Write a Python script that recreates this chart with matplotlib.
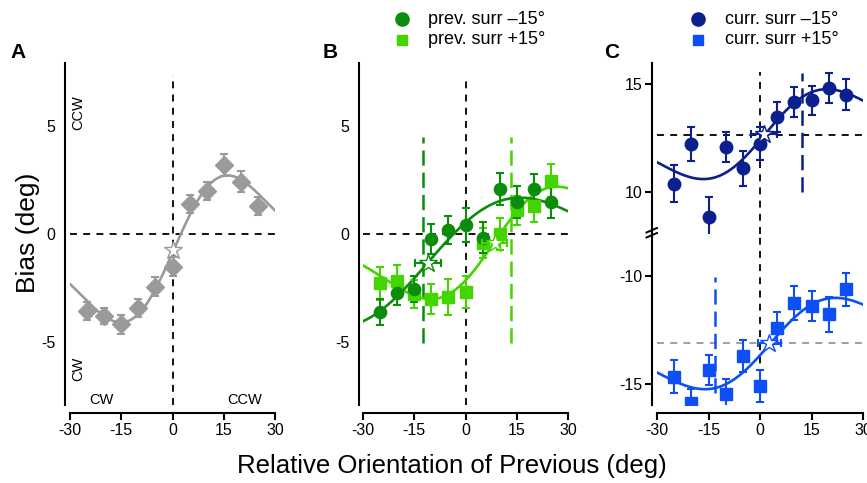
import numpy as np
import matplotlib
matplotlib.use("Agg")
import matplotlib.pyplot as plt
from matplotlib.lines import Line2D

plt.rcParams['font.family'] = ['Liberation Sans', 'DejaVu Sans']
plt.rcParams['lines.scale_dashes'] = False

# ---------------- data ----------------
rel_orient = [-25, -20, -15, -10, -5, 0, 5, 10, 15, 20, 25]
x_ticks = [-30, -15, 0, 15, 30]

# Panel A
A_bias = [-3.57, -3.80, -4.19, -3.45, -2.44, -1.52, 1.37, 1.99, 3.18, 2.41, 1.29]
A_err = [0.43, 0.39, 0.43, 0.42, 0.45, 0.45, 0.42, 0.42, 0.50, 0.50, 0.42]
A_fit = dict(x0=0.5, y0=-0.70, xp=15.6, amp=3.40)
A_star = (0.0, -0.75)

# Panel B
B_minus = [-3.60, -2.72, -2.57, -0.23, 0.17, 0.42, -0.18, 2.05, 1.46, 2.08, 1.46]
B_minus_err = [0.60, 0.58, 0.60, 0.70, 0.65, 0.78, 0.72, 0.74, 0.74, 0.70, 0.75]
B_plus = [-2.29, -2.18, -2.77, -3.00, -2.92, -2.68, -0.42, -0.03, 1.09, 1.28, 2.46]
B_plus_err = [0.75, 0.74, 0.65, 0.70, 0.85, 0.75, 0.70, 0.74, 0.68, 0.74, 0.77]
B_minus_fit = dict(x0=-11.0, y0=-1.33, xp=27.0, amp=3.0)
B_plus_fit = dict(x0=8.3, y0=-0.42, xp=18.5, amp=2.6)
B_minus_star = (-11.0, -1.33, 3.7)
B_plus_star = (8.5, -0.43, 3.7)
B_minus_peak = (-12.5, -5.05, 4.5)
B_plus_peak = (13.2, -5.05, 4.5)

# Panel C
C_minus = [10.39, 12.22, 8.86, 12.08, 11.10, 12.24, 13.47, 14.17, 14.24, 14.81, 14.51]
C_minus_err = [0.85, 0.77, 0.90, 0.70, 0.82, 0.77, 0.68, 0.70, 0.68, 0.70, 0.72]
C_plus = [-14.66, -15.86, -14.35, -15.46, -13.71, -15.09, -12.40, -11.25, -11.40, -11.78, -10.63]
C_plus_err = [0.77, 0.62, 0.70, 0.68, 0.74, 0.74, 0.74, 0.77, 0.70, 0.82, 0.78]
C_minus_fit = dict(x0=1.5, y0=12.68, xp=18.0, amp=2.08)
C_plus_fit = dict(x0=3.0, y0=-13.13, xp=19.0, amp=2.11)
C_minus_star = (1.1, 12.69, 3.8)
C_plus_star = (2.7, -13.10, 3.3)
C_minus_peak = (12.3, 10.0, 15.5)
C_plus_peak = (-13.2, -15.4, -10.05)
C_minus_base = 12.65
C_plus_base = -13.10

gray = '#9a9a9a'
dgreen = '#0b8c0b'
lgreen = '#44d400'
navy = '#0c1f8f'
blue = '#0d4ef5'

W, H = 867, 483
fig = plt.figure(figsize=(W / 100, H / 100), dpi=100)


def px_axes(x0, y0, x1, y1):
    return fig.add_axes([x0 / W, 1 - y1 / H, (x1 - x0) / W, (y1 - y0) / H])


def dog(p, x):
    d = (x - p['x0']) / p['xp']
    return p['y0'] + p['amp'] * d * np.exp(0.5 - 0.5 * d ** 2)


xs = np.linspace(-30, 30, 300)
DASH = (5, 4.5)
TICKFS = 11.5


def style(ax, show_x=True, left_out=3.6, ytick_len=0, ypad=7):
    for s in ['top', 'right']:
        ax.spines[s].set_visible(False)
    ax.spines['left'].set_position(('outward', left_out))
    ax.spines['left'].set_linewidth(1.5)
    if show_x:
        ax.spines['bottom'].set_position(('outward', 5.8))
        ax.spines['bottom'].set_linewidth(1.5)
        ax.set_xticks(x_ticks)
        ax.set_xticklabels([str(t) for t in x_ticks])
        ax.tick_params(axis='x', length=5, width=1.5, labelsize=TICKFS, pad=2)
    else:
        ax.spines['bottom'].set_visible(False)
        ax.set_xticks([])
    ax.tick_params(axis='y', length=ytick_len, width=1.5, labelsize=TICKFS, pad=ypad)
    ax.set_xlim(-30, 30)


def errpts(ax, y, e, color, marker, ms):
    ax.errorbar(rel_orient, y, yerr=e, fmt=marker, color=color, ms=ms,
                elinewidth=1.5, capsize=3, capthick=1.5, mec=color, zorder=4)


def star(ax, s, color, xerr=True):
    if xerr:
        ax.errorbar([s[0]], [s[1]], xerr=[s[2]], fmt='none', ecolor=color,
                    elinewidth=1.5, capsize=3, capthick=1.5, zorder=5)
    ax.plot([s[0]], [s[1]], marker='*', ms=13.5, mfc='white', mec=color,
            mew=1.0, ls='none', zorder=6)


# ---------------- Panel A ----------------
axA = px_axes(70, 63, 275, 405)
axA.set_ylim(-7.92, 7.9)
style(axA)
axA.set_yticks([-5, 0, 5])
axA.set_yticklabels(['-5', '0', '5'])
axA.axhline(0, color='black', lw=1.3, dashes=DASH, zorder=1)
axA.axvline(0, ymax=0.965, color='black', lw=1.3, dashes=DASH, zorder=1)
axA.plot(xs, dog(A_fit, xs), color=gray, lw=1.9, zorder=3)
errpts(axA, A_bias, A_err, gray, 'D', 9.3)
star(axA, A_star, gray, xerr=False)
axA.text(-27.7, 5.6, 'CCW', rotation=90, ha='center', va='center', fontsize=10.5)
axA.text(-27.7, -6.25, 'CW', rotation=90, ha='center', va='center', fontsize=10.5)
axA.text(-20.9, -7.7, 'CW', ha='center', va='center', fontsize=10.5)
axA.text(21.2, -7.7, 'CCW', ha='center', va='center', fontsize=10.5)

# ---------------- Panel B ----------------
axB = px_axes(363, 63, 568, 405)
axB.set_ylim(-7.92, 7.9)
style(axB, left_out=2.9)
axB.set_yticks([-5, 0, 5])
axB.set_yticklabels(['-5', '0', '5'])
axB.axhline(0, color='black', lw=1.3, dashes=DASH, zorder=1)
axB.axvline(0, ymax=0.96, color='black', lw=1.3, dashes=DASH, zorder=1)
axB.plot([B_minus_peak[0]] * 2, B_minus_peak[1:], color=dgreen, lw=1.8,
         dashes=(11, 5), zorder=1)
axB.plot([B_plus_peak[0]] * 2, B_plus_peak[1:], color=lgreen, lw=1.8,
         dashes=(11, 5), zorder=1)
axB.plot(xs, dog(B_plus_fit, xs), color=lgreen, lw=1.9, zorder=3)
axB.plot(xs, dog(B_minus_fit, xs), color=dgreen, lw=1.9, zorder=3)
errpts(axB, B_plus, B_plus_err, lgreen, 's', 8)
errpts(axB, B_minus, B_minus_err, dgreen, 'o', 8.8)
star(axB, B_plus_star, lgreen)
star(axB, B_minus_star, dgreen)

# ---------------- Panel C ----------------
axCt = px_axes(657, 63, 863, 234)
axCt.set_ylim(8.06, 15.97)
style(axCt, show_x=False, left_out=3.6, ytick_len=5, ypad=2)
axCt.set_yticks([10, 15])
axCt.set_yticklabels(['10', '15'])
axCt.axhline(C_minus_base, color='black', lw=1.3, dashes=DASH, zorder=1)
axCt.axvline(0, ymax=0.95, color='black', lw=1.3, dashes=DASH, zorder=1)
axCt.plot([C_minus_peak[0]] * 2, C_minus_peak[1:], color=navy, lw=1.8,
          dashes=(11, 5), zorder=1)
axCt.plot(xs, dog(C_minus_fit, xs), color=navy, lw=1.9, zorder=3)
errpts(axCt, C_minus, C_minus_err, navy, 'o', 9)
star(axCt, C_minus_star, navy)

axCb = px_axes(657, 234, 863, 405)
axCb.set_ylim(-15.97, -8.07)
style(axCb, left_out=3.6, ytick_len=5, ypad=2)
axCb.set_yticks([-15, -10])
axCb.set_yticklabels(['-15', '-10'])
axCb.axhline(C_plus_base, color='#999999', lw=1.3, dashes=DASH, zorder=1)
axCb.axvline(0, ymin=0.01, color='black', lw=1.3, dashes=DASH, zorder=1)
axCb.plot([C_plus_peak[0]] * 2, C_plus_peak[1:], color=blue, lw=1.8,
          dashes=(11, 5), zorder=1)
axCb.plot(xs, dog(C_plus_fit, xs), color=blue, lw=1.9, zorder=3)
errpts(axCb, C_plus, C_plus_err, blue, 's', 8.4)
star(axCb, C_plus_star, blue)

# axis break marks
for yy in (228.5, 233.5):
    fig.add_artist(Line2D([646.5 / W, 657 / W], [1 - (yy + 4) / H, 1 - (yy - 0.5) / H],
                          color='black', lw=1.4))

# ---------------- legends ----------------
def legend_row(xm, y, marker, ms, color, label):
    fig.add_artist(Line2D([xm / W], [1 - y / H], marker=marker, ms=ms, color=color,
                          mec=color, ls='none'))
    fig.text((xm + 26.5) / W, 1 - y / H, label, ha='left', va='center', fontsize=13)


legend_row(401.7, 19, 'o', 9.5, dgreen, 'prev. surr \u201315\u00b0')
legend_row(401.7, 40, 's', 7.5, lgreen, 'prev. surr +15\u00b0')
legend_row(698.3, 19, 'o', 9.5, navy, 'curr. surr \u201315\u00b0')
legend_row(698.3, 40, 's', 7.5, blue, 'curr. surr +15\u00b0')

# ---------------- labels ----------------
for lbl, xp in (('A', 18), ('B', 330), ('C', 612)):
    fig.text(xp / W, 1 - 53 / H, lbl, ha='center', va='center', fontsize=15,
             fontweight='bold')

fig.text(28 / W, 1 - 233 / H, 'Bias (deg)', rotation=90, ha='center', va='center',
         fontsize=19)
fig.text(452 / W, 1 - 466 / H, 'Relative Orientation of Previous (deg)', ha='center',
         va='center', fontsize=18.5)

fig.savefig('out.png', dpi=100)
